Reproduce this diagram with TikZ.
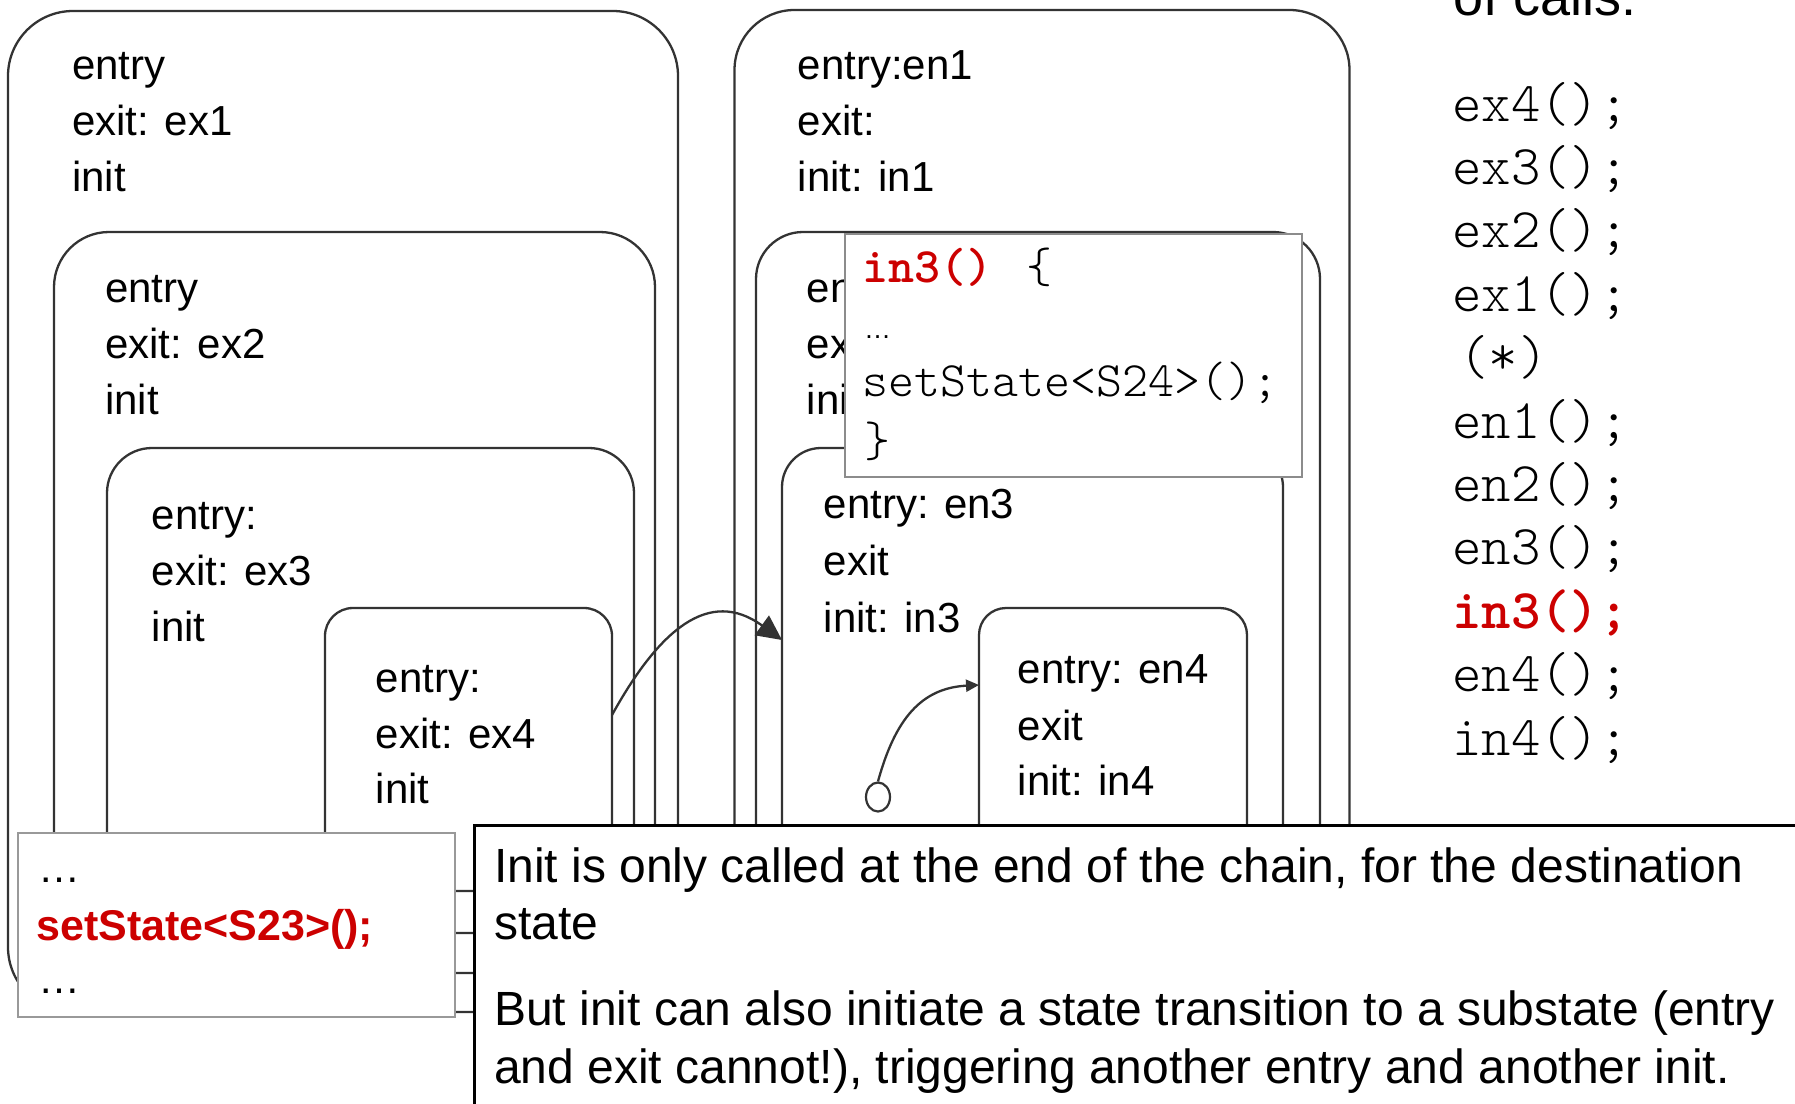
\documentclass[tikz,border=0pt]{standalone}
\usepackage{fontspec}
\setmainfont{Liberation Sans}
\setmonofont{lmmonolt10-regular.otf}[BoldFont=lmmonolt10-bold.otf]
\usetikzlibrary{arrows.meta,shapes.geometric}
\definecolor{edge}{HTML}{333333}
\definecolor{framegray}{HTML}{999999}
\definecolor{popgray}{HTML}{8C8C8C}
\definecolor{codered}{HTML}{CC0000}
\tikzset{
  statebox/.style={rectangle, draw=edge, line width=2.3pt, inner sep=0pt, outer sep=0pt, anchor=north west},
  popup/.style={rectangle, fill=white, line width=2.5pt, inner sep=0pt, outer sep=0pt, anchor=north west},
  lbl/.style={anchor=base west, inner sep=0pt, font=\fontsize{42}{50}\selectfont},
  calls/.style={anchor=base west, inner sep=0pt, font=\ttfamily\fontsize{56}{60}\selectfont},
  snippet/.style={anchor=base west, inner sep=0pt, font=\ttfamily\fontsize{49.5}{54}\selectfont},
  note/.style={anchor=base west, inner sep=0pt, font=\fontsize{48}{56}\selectfont},
  conn/.style={draw=edge, line width=2.3pt},
}
\begin{document}
\begin{tikzpicture}[x=1pt, y=-1pt]
\useasboundingbox (0,0) rectangle (1795,1103);
\fill[white] (0,0) rectangle (1795,1103);

% ---- source state hierarchy (left) ----
\node[statebox, minimum width=670pt, minimum height=1001pt, rounded corners=65pt] (L1) at (8,11) {};
\node[statebox, minimum width=601pt, minimum height=741pt, rounded corners=55pt] (L2) at (54,232) {};
\node[statebox, minimum width=527pt, minimum height=485pt, rounded corners=45pt] (L3) at (107,448) {};
\node[statebox, minimum width=287pt, minimum height=283pt, rounded corners=28pt] (L4) at (325,608) {};

\node[lbl] (l1a) at (72,79) {entry};
\node[lbl] (l1b) at (72,135) {exit: ex1};
\node[lbl] (l1c) at (72,191) {init};
\node[lbl] (l2a) at (105,302) {entry};
\node[lbl] (l2b) at (105,358) {exit: ex2};
\node[lbl] (l2c) at (105,414) {init};
\node[lbl] (l3a) at (151.5,529) {entry:};
\node[lbl] (l3b) at (151.5,585) {exit: ex3};
\node[lbl] (l3c) at (151.5,641) {init};
\node[lbl] (l4a) at (375.5,692) {entry:};
\node[lbl] (l4b) at (375.5,748) {exit: ex4};
\node[lbl] (l4c) at (375.5,803) {init};

% ---- destination state hierarchy (right) ----
\node[statebox, minimum width=615pt, minimum height=1002pt, rounded corners=60pt] (R1) at (734.5,10) {};
\node[statebox, minimum width=564pt, minimum height=741pt, rounded corners=47pt] (R2) at (756,232) {};
\node[statebox, minimum width=501pt, minimum height=485pt, rounded corners=39pt] (R3) at (782,448) {};
\node[statebox, minimum width=268pt, minimum height=283pt, rounded corners=27pt] (R4) at (979,608) {};

\node[lbl] (r1a) at (797.5,79) {entry:en1};
\node[lbl] (r1b) at (797.5,135) {exit:};
\node[lbl] (r1c) at (797.5,191) {init: in1};
\node[lbl] (r2a) at (806.5,302) {entry};
\node[lbl] (r2b) at (806.5,358) {exit};
\node[lbl] (r2c) at (806.5,414) {init};
\node[lbl] (r3a) at (823.5,518) {entry: en3};
\node[lbl] (r3b) at (823.5,575) {exit};
\node[lbl] (r3c) at (823.5,632) {init: in3};
\node[lbl] (r4a) at (1017.5,683) {entry: en4};
\node[lbl] (r4b) at (1017.5,740) {exit};
\node[lbl] (r4c) at (1017.5,795) {init: in4};

% ---- transitions ----
\draw[conn, -{Triangle[length=25pt,width=24pt]}]
  ([yshift=-107pt]L4.north east) .. controls +(47,-85) and +(-73,-53) .. ([yshift=-192pt]R3.north west);
\node[ellipse, draw=edge, line width=2.2pt, fill=white, minimum width=24pt, minimum height=29pt, inner sep=0pt] (ini) at (878,797) {};
\draw[conn, -{Triangle[length=13pt,width=12pt]}]
  (ini.north) .. controls +(17,-62) and +(-58,3) .. ([yshift=-77pt]R4.north west);

% ---- init body of the destination ----
\node[popup, draw=popgray, minimum width=457pt, minimum height=243pt] (in3box) at (845,234) {};
\node[snippet] (s1) at (862,282) {\textcolor{codered}{\bfseries in3()}\hspace{8pt} \{};
\node[anchor=base west, inner sep=0pt, font=\fontsize{27}{30}\selectfont] (s2) at (864,338) {…};
\node[snippet] (s3) at (862,396) {setState<S24>();};
\node[snippet] (s4) at (864,456) {\}};

% ---- order of calls ----
\node[anchor=base west, inner sep=0pt, font=\fontsize{54}{60}\selectfont] (ctitle) at (1453,15) {of calls:};
\node[calls] (c1) at (1452,121) {ex4();};
\node[calls] (c2) at (1452,184.4) {ex3();};
\node[calls] (c3) at (1452,247.8) {ex2();};
\node[calls] (c4) at (1452,311.2) {ex1();};
\node[calls] (c5) at (1459,374.6) {(*)};
\node[calls] (c6) at (1452,438) {en1();};
\node[calls] (c7) at (1452,501.4) {en2();};
\node[calls] (c8) at (1452,564.8) {en3();};
\node[calls, text=codered, font=\ttfamily\bfseries\fontsize{56}{60}\selectfont] (c9) at (1452,628.2) {in3();};
\node[calls] (c10) at (1452,691.6) {en4();};
\node[calls] (c11) at (1452,755) {in4();};

% ---- transition action in the source ----
\node[popup, draw=framegray, minimum width=437pt, minimum height=184pt] (actbox) at (18,833) {};
\node[lbl] (a1) at (38,882) {…};
\node[lbl, text=codered, font=\bfseries\fontsize{43}{50}\selectfont] (a2) at (36,940) {setState<S23>();};
\node[lbl] (a3) at (38,993) {…};

% ---- explanation ----
\node[popup, draw=black, line width=3pt, minimum width=1400pt, minimum height=320pt] (notebox) at (474,825) {};
\node[note] (n1) at (494,882) {Init is only called at the end of the chain, for the destination};
\node[note] (n2) at (494,939) {state};
\node[note] (n3) at (494,1025) {But init can also initiate a state transition to a substate (entry};
\node[note] (n4) at (494,1083) {and exit cannot!), triggering another entry and another init.};
\end{tikzpicture}
\end{document}
